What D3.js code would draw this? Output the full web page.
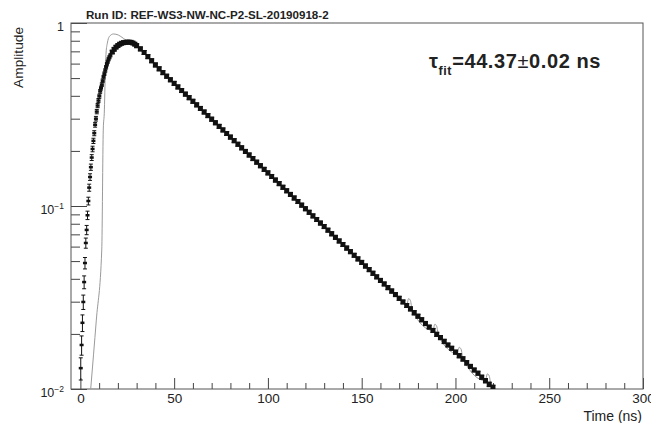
<!DOCTYPE html>
<html>
<head>
<meta charset="utf-8">
<script src="https://cdn.jsdelivr.net/npm/d3@7"></script>
<style>
  body { margin: 0; background: #fff; }
  svg { font-family: "Liberation Sans", Arial, Helvetica, sans-serif; }
  .axis text { fill: #222; font-size: 13.5px; }
  .axis line { stroke: #444; }
  .yaxis text { font-size: 12.5px; }
</style>
</head>
<body>
<svg></svg>
<script>
// measured pulse, bin centres in ns
const timeNs = [
  0.2, 0.65, 1.1, 1.55, 2.0, 2.45, 2.9, 3.35, 3.8, 4.25, 4.7, 5.15, 5.6, 6.05, 6.5, 6.95, 7.4, 7.85,
  8.3, 8.75, 9.2, 9.65, 10.1, 10.55, 11.0, 11.45, 11.9, 12.35, 12.8, 13.25, 13.7, 14.15, 14.6, 15.05, 15.5, 16.0,
  17, 18, 19, 20, 21, 22, 23, 24, 25, 26, 27, 28, 29,
  30, 32, 34, 36, 38, 40, 42, 44, 46, 48, 50, 52, 54, 56, 58, 60, 62, 64, 66, 68, 70, 72, 74, 76, 78,
  80, 82, 84, 86, 88, 90, 92, 94, 96, 98, 100, 102, 104, 106, 108, 110, 112, 114, 116, 118, 120, 122, 124, 126, 128,
  130, 132, 134, 136, 138, 140, 142, 144, 146, 148, 150, 152, 154, 156, 158, 160, 162, 164, 166, 168, 170, 172, 174, 176, 178,
  180, 182, 184, 186, 188, 190, 192, 194, 196, 198, 200, 202, 204, 206, 208, 210, 212, 214, 216, 218, 220, 222, 224
];
const amplitude = [
  0.0130, 0.0174, 0.0230, 0.0299, 0.0384, 0.0488, 0.0628, 0.0740, 0.0890, 0.1065, 0.126, 0.144, 0.163, 0.184, 0.205, 0.227, 0.250, 0.278,
  0.300, 0.328, 0.354, 0.377, 0.398, 0.423, 0.441, 0.460, 0.483, 0.506, 0.528, 0.550, 0.573, 0.595, 0.615, 0.634, 0.650, 0.666,
  0.694, 0.718, 0.738, 0.753, 0.766, 0.775, 0.781, 0.784, 0.786, 0.786, 0.784, 0.777, 0.766,
  0.752, 0.722, 0.690, 0.655, 0.622, 0.590, 0.562, 0.5356, 0.5120, 0.4895, 0.4679, 0.4473, 0.4276, 0.4087, 0.3907, 0.3735, 0.3570, 0.3413, 0.3263, 0.3119, 0.2981, 0.2850, 0.2724, 0.2604, 0.2490,
  0.2380, 0.2275, 0.2175, 0.2079, 0.1987, 0.1900, 0.1816, 0.1736, 0.1660, 0.1586, 0.1517, 0.1450, 0.1386, 0.1325, 0.1266, 0.1211, 0.1157, 0.1106, 0.1058, 0.1011, 0.0966, 0.0924, 0.0883, 0.0844, 0.0807,
  0.0772, 0.0738, 0.0705, 0.0674, 0.0644, 0.0616, 0.0589, 0.0563, 0.0538, 0.0514, 0.0492, 0.0470, 0.0449, 0.0429, 0.0410, 0.0392, 0.0375, 0.0358, 0.0343, 0.0328, 0.0313, 0.0299, 0.0286, 0.0274, 0.0261,
  0.0250, 0.0239, 0.0228, 0.0218, 0.0209, 0.0199, 0.0191, 0.0182, 0.0174, 0.0167, 0.0159, 0.0152, 0.0146, 0.0139, 0.0133, 0.0127, 0.0122, 0.0116, 0.0111, 0.0106, 0.0102, 0.0097, 0.0093
];
const amplitudeErr = [
  0.0018, 0.0021, 0.0024, 0.0027, 0.0031, 0.0035, 0.0040, 0.0043, 0.0047, 0.0052, 0.0056, 0.0060, 0.0064, 0.0068, 0.0072, 0.0075, 0.0079, 0.0083,
  0.0087, 0.0090, 0.0094, 0.0097, 0.0100, 0.0103, 0.0105, 0.0107, 0.0110, 0.0112, 0.0115, 0.0117, 0.0120, 0.0122, 0.0124, 0.0126, 0.0127, 0.0129,
  0.0132, 0.0134, 0.0136, 0.0137, 0.0138, 0.0139, 0.0140, 0.0140, 0.0140, 0.0140, 0.0140, 0.0139, 0.0138,
  0.0188, 0.0181, 0.0173, 0.0164, 0.0156, 0.0148, 0.0141, 0.0134, 0.0128, 0.0122, 0.0117, 0.0112, 0.0107, 0.0102, 0.0098, 0.0093, 0.0089, 0.0085, 0.0082, 0.0078, 0.0075, 0.0071, 0.0068, 0.0065, 0.0062,
  0.0060, 0.0057, 0.0054, 0.0052, 0.0050, 0.0048, 0.0045, 0.0043, 0.0042, 0.0040, 0.0038, 0.0036, 0.0035, 0.0033, 0.0032, 0.0030, 0.0029, 0.0028, 0.0026, 0.0025, 0.0024, 0.0023, 0.0022, 0.0021, 0.0020,
  0.0019, 0.0018, 0.0018, 0.0017, 0.0016, 0.0015, 0.0015, 0.0014, 0.0013, 0.0013, 0.0012, 0.0012, 0.0011, 0.0011, 0.0010, 0.0010, 0.0009, 0.0009, 0.0009, 0.0008, 0.0008, 0.0007, 0.0007, 0.0007, 0.0007,
  0.0006, 0.0006, 0.0006, 0.0005, 0.0005, 0.0005, 0.0005, 0.0005, 0.0004, 0.0004, 0.0004, 0.0004, 0.0004, 0.0004, 0.0003, 0.0003, 0.0003, 0.0003, 0.0003, 0.0003, 0.0003, 0.0002, 0.0002
];

// fit function as drawn (grey)
const fitTime = [5.5, 8.5, 11.4, 12.2, 12.8, 13.1, 13.3, 13.7, 14.4, 15.4, 17.6, 20.2, 22.9, 25.6, 28.1, 40, 100, 172,
  174, 175, 176, 177, 188, 189, 190, 191, 201, 202, 203, 204, 216, 217, 218, 219, 224];
const fitAmp = [0.0100, 0.0238, 0.0575, 0.260, 0.335, 0.449, 0.553, 0.686, 0.778, 0.842, 0.871, 0.860, 0.825, 0.790, 0.768, 0.5862, 0.1517, 0.0299,
  0.0286, 0.0312, 0.0304, 0.0267, 0.0209, 0.0226, 0.0220, 0.0195, 0.0156, 0.0169, 0.0165, 0.0146, 0.0111, 0.0121, 0.0118, 0.0104, 0.0093];

const xTicks = [0, 50, 100, 150, 200, 250, 300];
const xMinorTicks = d3.range(10, 300, 10).filter(d => d % 50 !== 0);
const yDecades = [0.01, 0.1, 1];
const yMinorTicks = [0.02, 0.03, 0.04, 0.05, 0.06, 0.07, 0.08, 0.09, 0.2, 0.3, 0.4, 0.5, 0.6, 0.7, 0.8, 0.9];
const runTitle = "Run ID: REF-WS3-NW-NC-P2-SL-20190918-2";

const width = 651, height = 423;
const margin = { top: 23, left: 71, right: 8, bottom: 34 };

const svg = d3.select("svg").attr("width", width).attr("height", height);

const x = d3.scaleLinear().domain([-5, 300]).range([margin.left, width - margin.right]);
const y = d3.scaleLog().domain([0.01, 1]).range([height - margin.bottom, margin.top]);

svg.append("clipPath").attr("id", "clip")
  .append("rect")
  .attr("x", margin.left).attr("y", margin.top)
  .attr("width", width - margin.left - margin.right)
  .attr("height", height - margin.top - margin.bottom);

// axes
svg.append("g").attr("class", "axis")
  .attr("transform", `translate(0,${height - margin.bottom})`)
  .call(d3.axisBottom(x).tickValues(xMinorTicks).tickSizeInner(-6).tickSizeOuter(0).tickFormat(""))
  .call(g => g.select(".domain").remove());

svg.append("g").attr("class", "axis")
  .attr("transform", `translate(0,${height - margin.bottom})`)
  .call(d3.axisBottom(x).tickValues(xTicks).tickSizeInner(-11).tickSizeOuter(0).tickPadding(4.5).tickFormat(d3.format("d")))
  .call(g => g.select(".domain").remove());

svg.append("g").attr("class", "axis")
  .attr("transform", `translate(${margin.left},0)`)
  .call(d3.axisLeft(y).tickValues(yMinorTicks).tickSizeInner(-9).tickSizeOuter(0).tickFormat(""))
  .call(g => g.select(".domain").remove());

const yAxisG = svg.append("g").attr("class", "axis yaxis")
  .attr("transform", `translate(${margin.left},0)`)
  .call(d3.axisLeft(y).tickValues(yDecades).tickSizeInner(-16).tickSizeOuter(0).tickPadding(7))
  .call(g => g.select(".domain").remove());

yAxisG.selectAll(".tick text").attr("dy", "0.62em").each(function(d) {
  const t = d3.select(this).text("");
  const p = Math.round(Math.log10(d));
  if (p === 0) { t.text("1"); return; }
  t.append("tspan").text("10");
  t.append("tspan").attr("dy", "-5").attr("font-size", "8.5px").text("\u2212" + (-p));
});

// frame
svg.append("rect")
  .attr("x", margin.left).attr("y", margin.top)
  .attr("width", width - margin.left - margin.right)
  .attr("height", height - margin.top - margin.bottom)
  .attr("fill", "none").attr("stroke", "#555").attr("stroke-width", 1);

const plot = svg.append("g").attr("clip-path", "url(#clip)");

// fit curve
plot.append("path")
  .datum(d3.zip(fitTime, fitAmp))
  .attr("fill", "none")
  .attr("stroke", "#9a9a9a")
  .attr("stroke-width", 1)
  .attr("d", d3.line().x(d => x(d[0])).y(d => y(d[1])).curve(d3.curveMonotoneX));

// data points with error bars
const pts = timeNs.map((t, i) => ({ t, v: amplitude[i], e: amplitudeErr[i] }));
const dense = d => d.t >= 17;
const capW = d => dense(d) ? 2.5 : 2;
const lo = d => y(Math.max(d.v - d.e, 0.002));
const hi = d => y(d.v + d.e);

const pg = plot.selectAll("g.pt").data(pts).join("g").attr("class", "pt")
  .attr("stroke", "#111").attr("stroke-width", 1);
pg.append("line")
  .attr("x1", d => x(d.t)).attr("x2", d => x(d.t))
  .attr("y1", lo).attr("y2", hi);
pg.append("line")
  .attr("x1", d => x(d.t) - capW(d)).attr("x2", d => x(d.t) + capW(d))
  .attr("y1", hi).attr("y2", hi);
pg.append("line")
  .attr("x1", d => x(d.t) - capW(d)).attr("x2", d => x(d.t) + capW(d))
  .attr("y1", lo).attr("y2", lo);
pg.append("rect")
  .attr("x", d => x(d.t) - (dense(d) ? 2.5 : 2))
  .attr("y", d => y(d.v) - (dense(d) ? 2.5 : 1.25))
  .attr("width", d => dense(d) ? 5 : 4)
  .attr("height", d => dense(d) ? 5 : 2.5)
  .attr("fill", "#111").attr("stroke", "none");

// titles
svg.append("text")
  .attr("x", 86).attr("y", 19)
  .attr("font-size", "11.6px").attr("font-weight", "bold").attr("fill", "#222")
  .text(runTitle);

svg.append("text")
  .attr("transform", "translate(23,27) rotate(-90)")
  .attr("text-anchor", "end")
  .attr("font-size", "13.7px").attr("fill", "#222")
  .text("Amplitude");

svg.append("text")
  .attr("x", width - margin.right - 1).attr("y", 421)
  .attr("text-anchor", "end")
  .attr("font-size", "14px").attr("fill", "#222")
  .text("Time (ns)");

const ann = svg.append("text")
  .attr("x", 429).attr("y", 68)
  .attr("font-size", "20px").attr("font-weight", "bold").attr("fill", "#222")
  .attr("letter-spacing", "0.6px");
ann.append("tspan").text("\u03c4");
ann.append("tspan").attr("dy", 7).attr("font-size", "12.5px").text("fit");
ann.append("tspan").attr("dy", -7).text("=44.37");
ann.append("tspan").attr("font-weight", "normal").text("\u00b1");
ann.append("tspan").text("0.02 ns");
</script>
</body>
</html>
